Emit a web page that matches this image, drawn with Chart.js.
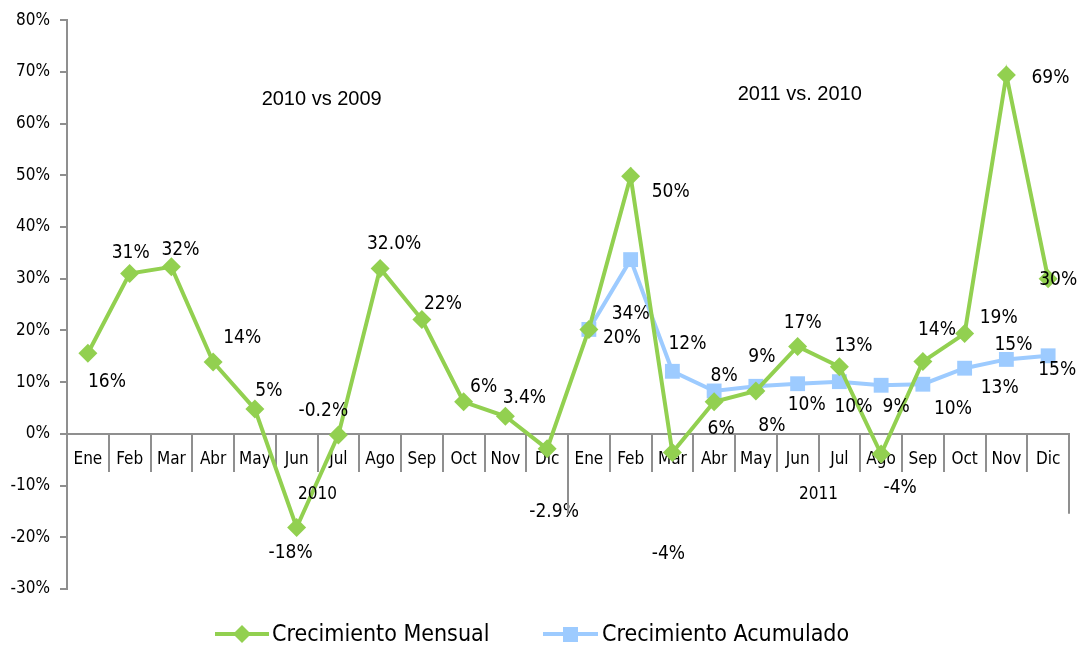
<!DOCTYPE html>
<html><head><meta charset="utf-8">
<script src="https://cdn.jsdelivr.net/npm/chart.js@4.4.0/dist/chart.umd.min.js"></script>
<style>html,body{margin:0;padding:0;background:#fff}#wrap{width:1086px;height:650px}</style>
</head><body><div id="wrap"><canvas id="c" width="1086" height="650"></canvas></div>
<script>
const months = ['Ene','Feb','Mar','Abr','May','Jun','Jul','Ago','Sep','Oct','Nov','Dic'];
const categories = months.concat(months);
const years = ['2010', '2011'];
const comparisons = ['2010 vs 2009', '2011 vs. 2010'];
const seriesNames = ['Crecimiento Mensual', 'Crecimiento Acumulado'];
const mensual = [15.6, 31.0, 32.3, 13.9, 4.8, -18.1, -0.2, 32.0, 22.1, 6.2, 3.4, -2.9,
                 20.2, 49.8, -3.6, 6.2, 8.3, 16.9, 13.0, -3.9, 14.0, 19.4, 69.4, 30.0];
const acumulado = [null, null, null, null, null, null, null, null, null, null, null, null,
                 20.2, 33.7, 12.1, 8.3, 9.2, 9.7, 10.1, 9.4, 9.6, 12.7, 14.4, 15.1];
const mensualLabels = ['16%','31%','32%','14%','5%','-18%','-0.2%','32.0%','22%','6%','3.4%','-2.9%',
                 '','50%','-4%','6%','8%','17%','13%','-4%','14%','19%','69%','30%'];
const acumuladoLabels = ['','','','','','','','','','','','',
                 '20%','34%','12%','8%','9%','10%','10%','9%','10%','13%','15%','15%'];
const yMin = -30, yMax = 80, yStep = 10;

// label placement (pixel offsets from each point)
const mensualOff = [[19,29],[1,-21],[9,-17],[29,-24],[14,-18],[-6,26],[-15,-24],[14,-24],[21,-16],[20,-15],[19,-18],[7,63],
  [0,0],[40,16],[-4,102],[7,27],[16,35],[5,-23],[14,-21],[19,34],[14,-31],[34,-15],[44,3],[10,1]];
const acumOff = [[0,0],[0,0],[0,0],[0,0],[0,0],[0,0],[0,0],[0,0],[0,0],[0,0],[0,0],[0,0],
  [33,9],[0,54],[15,-27],[10,-15],[6,-29],[9,21],[14,25],[15,22],[30,25],[35,20],[7,-14],[9,14]];

const GREEN = '#92D050', BLUE = '#9DCBFF', AXIS = '#8f8f8f';
const FONT = '"DejaVu Sans Condensed", "Liberation Sans Narrow", "DejaVu Sans", sans-serif';
const NOTE_FONT = '"Liberation Sans", Arial, sans-serif';

const extras = {
  id: 'extras',
  afterDatasetsDraw(chart) {
    const ctx = chart.ctx, x = chart.scales.x, y = chart.scales.y;
    ctx.save();
    ctx.fillStyle = '#000';
    ctx.font = '19px ' + FONT;
    ctx.textAlign = 'center';
    ctx.textBaseline = 'middle';
    const draw = (labels, offs, dsIndex) => {
      const meta = chart.getDatasetMeta(dsIndex);
      meta.data.forEach((pt, i) => {
        if (!labels[i]) return;
        ctx.fillText(labels[i], pt.x + offs[i][0], pt.y + offs[i][1]);
      });
    };
    draw(mensualLabels, mensualOff, 0);
    draw(acumuladoLabels, acumOff, 1);
    const y0 = y.getPixelForValue(0);
    ctx.strokeStyle = AXIS; ctx.lineWidth = 2;
    const half = (x.getPixelForValue(1) - x.getPixelForValue(0)) / 2;
    [11, 23].forEach(i => {
      const px = Math.round(x.getPixelForValue(i) + half);
      ctx.beginPath(); ctx.moveTo(px, y0); ctx.lineTo(px, y0 + 80); ctx.stroke();
    });
    ctx.font = '17px ' + FONT;
    years.forEach((yr, g) => {
      const cx = (x.getPixelForValue(g * 12) + x.getPixelForValue(g * 12 + 11)) / 2;
      ctx.fillText(yr, cx, y0 + 61);
    });
    ctx.font = '20px ' + NOTE_FONT;
    ctx.fillText(comparisons[0], x.getPixelForValue(5.6), y.getPixelForValue(64.6));
    ctx.fillText(comparisons[1], x.getPixelForValue(17.05), y.getPixelForValue(65.7));
    const ly = 634;
    ctx.font = '23px ' + FONT;
    ctx.textAlign = 'left';
    ctx.lineWidth = 4;
    ctx.strokeStyle = GREEN; ctx.fillStyle = GREEN;
    ctx.beginPath(); ctx.moveTo(215, ly); ctx.lineTo(269, ly); ctx.stroke();
    ctx.beginPath(); ctx.moveTo(242, ly - 9); ctx.lineTo(251, ly); ctx.lineTo(242, ly + 9); ctx.lineTo(233, ly); ctx.closePath(); ctx.fill();
    ctx.strokeStyle = BLUE; ctx.fillStyle = BLUE;
    ctx.beginPath(); ctx.moveTo(543, ly); ctx.lineTo(598, ly); ctx.stroke();
    ctx.fillRect(563, ly - 7, 15, 15);
    ctx.fillStyle = '#000';
    ctx.fillText(seriesNames[0], 272, ly + 1);
    ctx.fillText(seriesNames[1], 602, ly + 1);
    ctx.restore();
  }
};

new Chart(document.getElementById('c'), {
  type: 'line',
  data: {
    labels: categories,
    datasets: [
      { label: seriesNames[0], data: mensual, borderColor: GREEN, backgroundColor: GREEN, borderWidth: 4,
        pointStyle: 'rectRot', pointRadius: 9.5, pointHoverRadius: 9.5, pointBorderWidth: 0, tension: 0, clip: false },
      { label: seriesNames[1], data: acumulado, borderColor: BLUE, backgroundColor: BLUE, borderWidth: 4,
        pointStyle: 'rect', pointRadius: 10.5, pointHoverRadius: 10.5, pointBorderWidth: 0, tension: 0, clip: false }
    ]
  },
  options: {
    responsive: false, animation: false, devicePixelRatio: 1,
    layout: { padding: { left: 0, right: 17, top: 17, bottom: 61 } },
    plugins: { legend: { display: false }, tooltip: { enabled: false } },
    scales: {
      x: {
        position: { y: 0 }, offset: true,
        grid: { offset: true, drawOnChartArea: false, drawTicks: true, tickLength: 37, color: AXIS, lineWidth: 2 },
        border: { color: AXIS, width: 2 },
        ticks: { color: '#000', font: { family: FONT, size: 17 }, padding: -21, maxRotation: 0, autoSkip: false }
      },
      y: {
        min: yMin, max: yMax,
        afterFit(s) { s.width = 67; },
        grid: { drawOnChartArea: false, drawTicks: true, tickLength: 7, color: AXIS, lineWidth: 2 },
        border: { color: AXIS, width: 2 },
        ticks: { stepSize: yStep, color: '#000', font: { family: FONT, size: 17 }, padding: 10,
                 callback: v => v + '%' }
      }
    }
  },
  plugins: [extras]
});
</script></body></html>
